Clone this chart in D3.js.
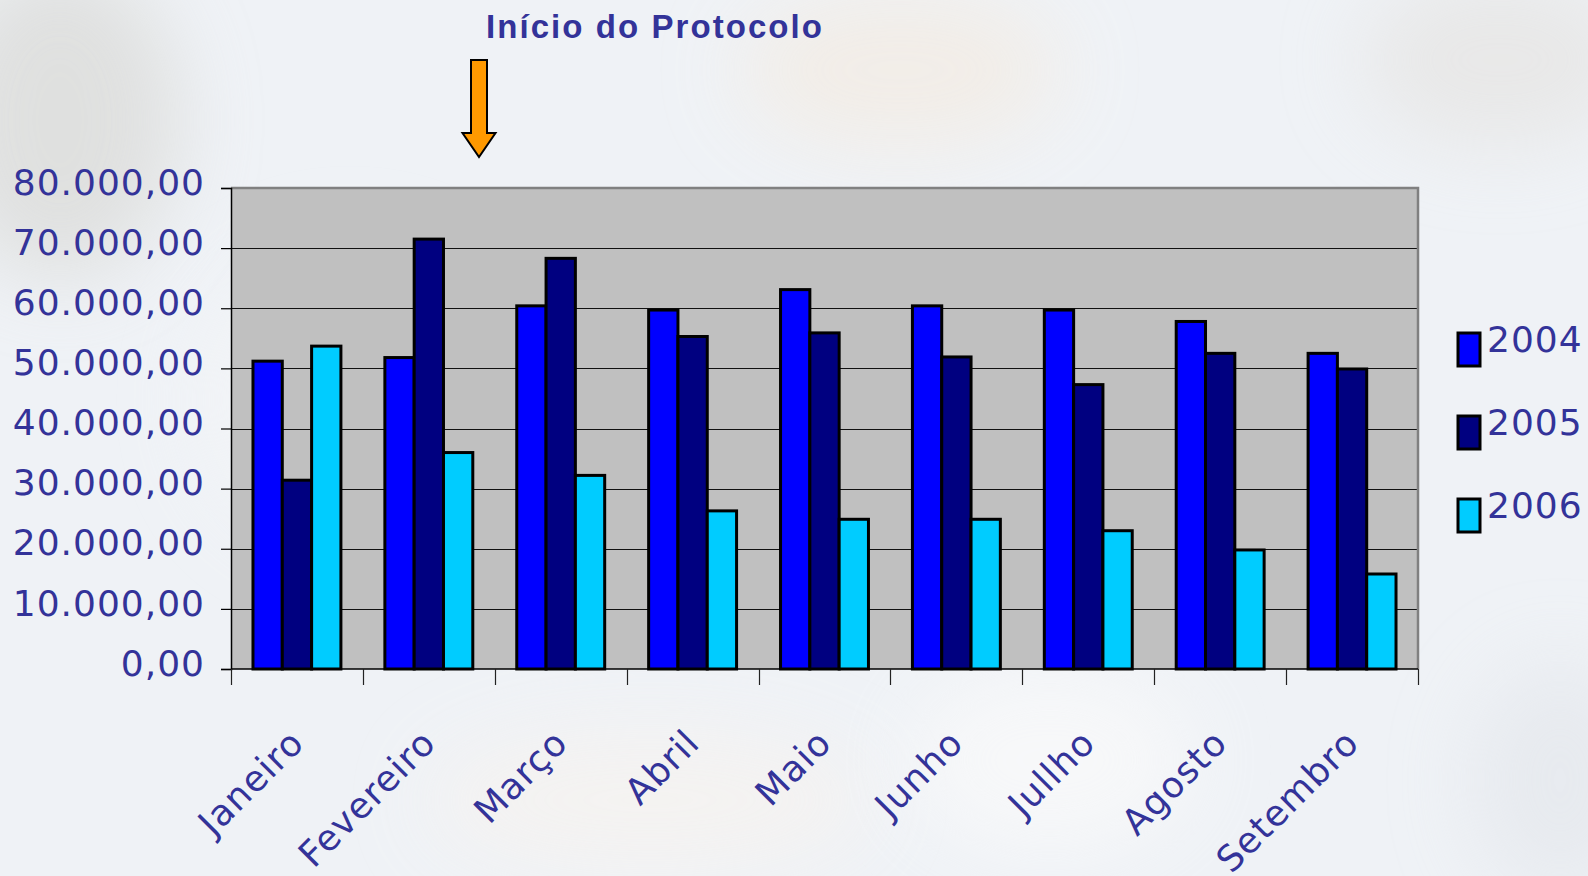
<!DOCTYPE html>
<html>
<head>
<meta charset="utf-8">
<script src="https://cdn.jsdelivr.net/npm/d3@7"></script>
<style>
  html, body { margin: 0; padding: 0; }
  body { width: 1588px; height: 876px; overflow: hidden; background: #eff2f6; }
  svg { display: block; }
</style>
</head>
<body>
<svg id="chart" width="1588" height="876"></svg>
<script>
// ---- data ----
const months = ["Janeiro", "Fevereiro", "Março", "Abril", "Maio", "Junho", "Jullho", "Agosto", "Setembro"];
const seriesNames = ["2004", "2005", "2006"];
const values2004 = [51200, 51800, 60400, 59700, 63100, 60400, 59700, 57800, 52500];
const values2005 = [31400, 71500, 68300, 55300, 55900, 51900, 47300, 52500, 49900];
const values2006 = [53700, 36000, 32200, 26300, 24900, 24900, 23000, 19800, 15800];
const yTicks = [0, 10000, 20000, 30000, 40000, 50000, 60000, 70000, 80000];
const titleText = "Início do Protocolo";

const seriesValues = [values2004, values2005, values2006];
const colors = ["#0000FF", "#000080", "#00CCFF"];
const textColor = "#333399";
const font = "'DejaVu Sans', Verdana, sans-serif";

const svg = d3.select("#chart");

// ---- background (soft blurred photo feel) ----
const defs = svg.append("defs");
const blur = defs.append("filter").attr("id", "blur").attr("x", "-50%").attr("y", "-50%").attr("width", "200%").attr("height", "200%");
blur.append("feGaussianBlur").attr("stdDeviation", 40);
const bg = svg.append("g");
bg.append("rect").attr("width", 1588).attr("height", 876).attr("fill", "#eff2f6");
const blobs = [
  {cx: 60, cy: 120, rx: 120, ry: 160, c: "#d9d9d6", o: 0.7},
  {cx: 900, cy: 70, rx: 160, ry: 80, c: "#f3ece4", o: 0.8},
  {cx: 1500, cy: 60, rx: 140, ry: 90, c: "#e4e2df", o: 0.6},
  {cx: 650, cy: 800, rx: 220, ry: 70, c: "#f6f3f0", o: 0.8},
  {cx: 1050, cy: 760, rx: 140, ry: 90, c: "#fbfbfb", o: 0.7},
  {cx: 1560, cy: 780, rx: 90, ry: 120, c: "#e2e5ea", o: 0.6},
  {cx: 350, cy: 400, rx: 150, ry: 150, c: "#f5f6f8", o: 0.6}
];
bg.selectAll("ellipse").data(blobs).join("ellipse")
  .attr("cx", d => d.cx).attr("cy", d => d.cy).attr("rx", d => d.rx).attr("ry", d => d.ry)
  .attr("fill", d => d.c).attr("opacity", d => d.o).attr("filter", "url(#blur)");

// ---- scales ----
const plotLeft = 231, plotRight = 1418, plotTop = 188, plotBottom = 669;
const x0 = d3.scaleBand().domain(months).range([plotLeft, plotRight]).paddingInner(1/3).paddingOuter(1/6);
const x1 = d3.scaleBand().domain(seriesNames).range([0, x0.bandwidth()]);
const y = d3.scaleLinear().domain([0, 80000]).range([plotBottom, plotTop]);

// ---- plot area ----
svg.append("rect")
  .attr("x", plotLeft).attr("y", plotTop)
  .attr("width", plotRight - plotLeft).attr("height", plotBottom - plotTop)
  .attr("fill", "#C0C0C0");

// gridlines
svg.append("g").selectAll("line").data(yTicks.filter(v => v > 0 && v < 80000)).join("line")
  .attr("x1", plotLeft).attr("x2", plotRight)
  .attr("y1", d => Math.round(y(d)) + 0.5).attr("y2", d => Math.round(y(d)) + 0.5)
  .attr("stroke", "#111").attr("stroke-width", 1.2);

// top and right border (gray)
svg.append("path")
  .attr("d", `M${plotLeft},${plotTop} H${plotRight} V${plotBottom}`)
  .attr("fill", "none").attr("stroke", "#808080").attr("stroke-width", 2.5);

// ---- bars ----
const rows = months.map((m, i) => ({ month: m, vals: seriesNames.map((s, j) => ({ s, j, v: seriesValues[j][i] })) }));
svg.append("g").selectAll("g").data(rows).join("g")
  .attr("transform", d => `translate(${x0(d.month)},0)`)
  .selectAll("rect").data(d => d.vals).join("rect")
  .attr("x", d => x1(d.s))
  .attr("y", d => y(d.v))
  .attr("width", x1.bandwidth())
  .attr("height", d => y(0) - y(d.v))
  .attr("fill", d => colors[d.j])
  .attr("stroke", "#000").attr("stroke-width", 3);

// ---- y axis ----
const yAxis = svg.append("g").attr("transform", `translate(${plotLeft},0)`)
  .call(d3.axisLeft(y).tickValues(yTicks).tickSize(10).tickPadding(16)
    .tickFormat(d => d3.format(",.2f")(d).replace(/,/g, "#").replace(".", ",").replace(/#/g, ".")));
yAxis.select(".domain").attr("stroke", "#000").attr("stroke-width", 1.5);
yAxis.selectAll(".tick line").attr("stroke", "#000").attr("stroke-width", 1.2);
yAxis.selectAll(".tick text")
  .attr("fill", textColor).style("font-family", font).style("font-size", "36px")
  .style("letter-spacing", "1px")
  .attr("dy", "0.17em");

// ---- x axis ----
const xAxis = svg.append("g").attr("transform", `translate(0,${plotBottom})`)
  .call(d3.axisBottom(x0).tickSize(0).tickPadding(0));
xAxis.select(".domain").remove();
svg.append("line").attr("x1", plotLeft).attr("x2", plotRight)
  .attr("y1", plotBottom).attr("y2", plotBottom).attr("stroke", "#000").attr("stroke-width", 1.5);
const step = x0.step();
svg.append("g").selectAll("line").data(d3.range(months.length + 1)).join("line")
  .attr("x1", i => Math.round(plotLeft + i * step) + 0.5)
  .attr("x2", i => Math.round(plotLeft + i * step) + 0.5)
  .attr("y1", plotBottom).attr("y2", plotBottom + 16)
  .attr("stroke", "#222").attr("stroke-width", 1.2);
xAxis.selectAll(".tick text")
  .attr("fill", textColor).style("font-family", font).style("font-size", "36px")
  .style("letter-spacing", "1px")
  .attr("text-anchor", "end")
  .attr("transform", "translate(9,76) rotate(-45)")
  .attr("dy", "0");

// ---- legend ----
const legend = svg.append("g");
seriesNames.forEach((s, j) => {
  const ly = 333 + j * 83;
  legend.append("rect").attr("x", 1458).attr("y", ly).attr("width", 22).attr("height", 33)
    .attr("fill", colors[j]).attr("stroke", "#000").attr("stroke-width", 3);
  legend.append("text").attr("x", 1487).attr("y", ly + 19)
    .attr("fill", textColor).style("font-family", font).style("font-size", "36px")
    .style("letter-spacing", "1px").text(s);
});

// ---- title and arrow ----
svg.append("text").attr("x", 486).attr("y", 38)
  .attr("fill", textColor)
  .style("font-family", "'Liberation Sans', Arial, sans-serif")
  .style("font-weight", "bold").style("font-size", "33px")
  .attr("textLength", 336).attr("lengthAdjust", "spacing")
  .text(titleText);

svg.append("path")
  .attr("d", "M471,60 H487 V133 H495.5 L479,157 L462.5,133 H471 Z")
  .attr("fill", "#FF9900").attr("stroke", "#000").attr("stroke-width", 2).attr("stroke-linejoin", "miter");
</script>
</body>
</html>
